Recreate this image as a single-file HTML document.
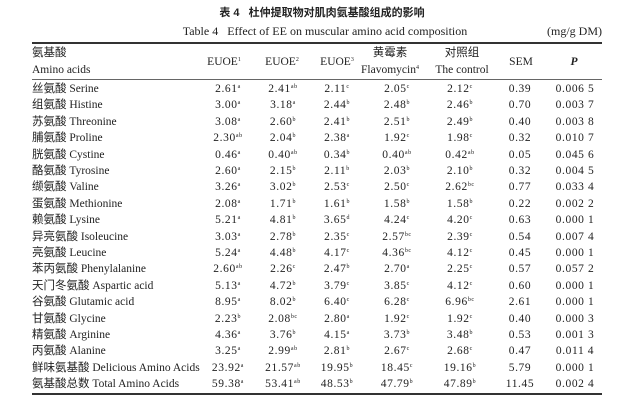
<!DOCTYPE html>
<html><head><meta charset="utf-8"><style>
body{margin:0;width:640px;height:401px;background:#fff;position:relative;overflow:hidden;font-family:"Liberation Serif","Noto Serif CJK SC",serif;color:#222;}
.t{position:absolute;white-space:nowrap;font-size:11.5px;line-height:12px;}
.c{transform:translateX(-50%);}
sup{font-size:6px;vertical-align:4px;line-height:0;}
.r{position:absolute;left:32px;width:570px;background:#333;}
.zh{font-family:"Liberation Sans","Noto Sans CJK SC",sans-serif;}
</style></head><body>
<div class="t c zh" style="left:322px;top:7px;font-weight:bold;font-size:11px;">表 4&nbsp;&nbsp;&nbsp;杜仲提取物对肌肉氨基酸组成的影响</div>
<div class="t c" style="left:325px;top:25px;font-size:12px;">Table 4&nbsp;&nbsp;&nbsp;Effect of EE on muscular amino acid composition</div>
<div class="t" style="right:38px;top:25px;font-size:12px;">(mg/g DM)</div>
<div class="r" style="top:42px;height:2px;"></div>
<div class="r" style="top:79px;height:1px;background:#666;"></div>
<div class="r" style="top:393px;height:2px;"></div>
<div class="t zh" style="left:32px;top:47px;">氨基酸</div>
<div class="t" style="left:32px;top:64px;">Amino acids</div>
<div class="t c" style="left:224px;top:56px;">EUOE<sup>1</sup></div>
<div class="t c" style="left:282px;top:56px;">EUOE<sup>2</sup></div>
<div class="t c" style="left:337px;top:56px;">EUOE<sup>3</sup></div>
<div class="t c zh" style="left:390px;top:47px;">黄霉素</div>
<div class="t c" style="left:390px;top:64px;">Flavomycin<sup>4</sup></div>
<div class="t c zh" style="left:462px;top:47px;">对照组</div>
<div class="t c" style="left:462px;top:64px;">The control</div>
<div class="t c" style="left:521px;top:56px;">SEM</div>
<div class="t c" style="left:574px;top:56px;font-style:italic;font-weight:bold;">P</div>
<div id="rows"></div>
<script>
var d=[
["丝氨酸 Serine","2.61|a","2.41|ab","2.11|c","2.05|c","2.12|c","0.39","0.006 5"],
["组氨酸 Histine","3.00|a","3.18|a","2.44|b","2.48|b","2.46|b","0.70","0.003 7"],
["苏氨酸 Threonine","3.08|a","2.60|b","2.41|b","2.51|b","2.49|b","0.40","0.003 8"],
["脯氨酸 Proline","2.30|ab","2.04|b","2.38|a","1.92|c","1.98|c","0.32","0.010 7"],
["胱氨酸 Cystine","0.46|a","0.40|ab","0.34|b","0.40|ab","0.42|ab","0.05","0.045 6"],
["酪氨酸 Tyrosine","2.60|a","2.15|b","2.11|b","2.03|b","2.10|b","0.32","0.004 5"],
["缬氨酸 Valine","3.26|a","3.02|b","2.53|c","2.50|c","2.62|bc","0.77","0.033 4"],
["蛋氨酸 Methionine","2.08|a","1.71|b","1.61|b","1.58|b","1.58|b","0.22","0.002 2"],
["赖氨酸 Lysine","5.21|a","4.81|b","3.65|d","4.24|c","4.20|c","0.63","0.000 1"],
["异亮氨酸 Isoleucine","3.03|a","2.78|b","2.35|c","2.57|bc","2.39|c","0.54","0.007 4"],
["亮氨酸 Leucine","5.24|a","4.48|b","4.17|c","4.36|bc","4.12|c","0.45","0.000 1"],
["苯丙氨酸 Phenylalanine","2.60|ab","2.26|c","2.47|b","2.70|a","2.25|c","0.57","0.057 2"],
["天门冬氨酸 Aspartic acid","5.13|a","4.72|b","3.79|c","3.85|c","4.12|c","0.60","0.000 1"],
["谷氨酸 Glutamic acid","8.95|a","8.02|b","6.40|c","6.28|c","6.96|bc","2.61","0.000 1"],
["甘氨酸 Glycine","2.23|b","2.08|bc","2.80|a","1.92|c","1.92|c","0.40","0.000 3"],
["精氨酸 Arginine","4.36|a","3.76|b","4.15|a","3.73|b","3.48|b","0.53","0.001 3"],
["丙氨酸 Alanine","3.25|a","2.99|ab","2.81|b","2.67|c","2.68|c","0.47","0.011 4"],
["鲜味氨基酸 Delicious Amino Acids","23.92|a","21.57|ab","19.95|b","18.45|c","19.16|b","5.79","0.000 1"],
["氨基酸总数 Total Amino Acids","59.38|a","53.41|ab","48.53|b","47.79|b","47.89|b","11.45","0.002 4"]];
var xs=[228,283,337,397,460,520,575],h="";
d.forEach(function(r,i){var y=83+i*16.4;
var p=r[0].split(" ");var zh=p.shift();
h+='<div class="t" style="left:32px;top:'+y+'px;"><span class="zh">'+zh+'</span> '+p.join(" ")+'</div>';
for(var j=1;j<8;j++){var v=r[j].split("|");
h+='<div class="t c" style="left:'+xs[j-1]+'px;top:'+y+'px;letter-spacing:0.6px;">'+v[0]+(v[1]?'<sup>'+v[1]+'</sup>':'')+'</div>';}
});
document.getElementById("rows").innerHTML=h;
</script>
</body></html>
